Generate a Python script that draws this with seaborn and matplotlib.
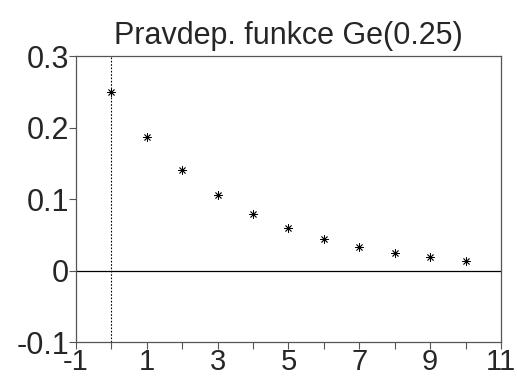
import pandas as pd
import matplotlib
matplotlib.use("Agg")
import matplotlib.pyplot as plt
import seaborn as sns

# Probability function of Ge(0.25)
k = [0, 1, 2, 3, 4, 5, 6, 7, 8, 9, 10]
prob = [0.25, 0.1875, 0.1406, 0.1055, 0.0791, 0.0593, 0.0445, 0.0334, 0.0250, 0.0188, 0.0141]
x_ticks = [-1, 0, 1, 2, 3, 4, 5, 6, 7, 8, 9, 10, 11]
x_labels = ["-1", "", "1", "", "3", "", "5", "", "7", "", "9", "", "11"]
y_ticks = [-0.1, 0, 0.1, 0.2, 0.3]
y_labels = ["-0.1", "0", "0.1", "0.2", "0.3"]

df = pd.DataFrame({"k": k, "p": prob})

sns.set_style("ticks")
plt.rcParams["font.family"] = ["Liberation Sans", "DejaVu Sans"]

fig = plt.figure(figsize=(5.17, 3.77), dpi=100)
ax = fig.add_axes([0.147, 0.092, 0.822, 0.759])

ax.axhline(0, color="black", lw=0.9, zorder=1)
ax.axvline(0, color="black", lw=0.8, ls=(0, (1.5, 1.5)), zorder=1)

sns.scatterplot(data=df, x="k", y="p", ax=ax, marker=(8, 2, 0), s=30,
                color="black", linewidth=0.6, edgecolor="black", zorder=3)

ax.set_xlim(-1, 11)
ax.set_ylim(-0.1, 0.3)
ax.set_xticks(x_ticks)
ax.set_xticklabels(x_labels)
ax.set_yticks(y_ticks)
ax.set_yticklabels(y_labels)
ax.tick_params(labelsize=22, length=5, width=0.8, color="#555555", pad=0)
ax.tick_params(axis="x", labelsize=21, pad=-1)
for s in ax.spines.values():
    s.set_color("#555555")
    s.set_linewidth(0.9)
ax.set_xlabel("")
ax.set_ylabel("")
ax.set_title("Pravdep. funkce Ge(0.25)", fontsize=22, pad=9)

fig.savefig("out.png", dpi=100)
